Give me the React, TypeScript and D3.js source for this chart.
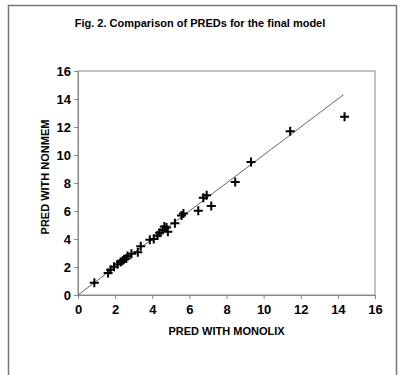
import { useEffect, useRef } from "react"
import * as d3 from "d3"

const monolix = [0.88, 1.62, 1.76, 1.94, 2.13, 2.3, 2.4, 2.48, 2.6, 2.67, 2.88, 3.22, 3.38, 3.87, 4.08, 4.28, 4.4, 4.55, 4.65, 4.77, 4.84, 5.22, 5.58, 5.68, 6.48, 6.75, 6.93, 7.18, 8.47, 9.32, 11.43, 14.36]
const nonmem = [0.88, 1.58, 1.8, 2.02, 2.2, 2.35, 2.45, 2.55, 2.6, 2.79, 2.95, 3.05, 3.48, 3.95, 4.0, 4.25, 4.45, 4.65, 4.9, 4.83, 4.52, 5.12, 5.67, 5.83, 6.02, 6.95, 7.12, 6.36, 8.07, 9.5, 11.69, 12.74]
const ticks = [0, 2, 4, 6, 8, 10, 12, 14, 16]
const lineEnd = 14.3

export default function App() {
  const svgRef = useRef<SVGSVGElement>(null)

  useEffect(() => {
    if (!svgRef.current) return
    const svg = d3.select(svgRef.current)
    svg.selectAll("*").remove()

    const width = 404
    const height = 375
    const margin = { top: 71, right: 29, bottom: 80, left: 78 }
    const innerWidth = width - margin.left - margin.right
    const innerHeight = height - margin.top - margin.bottom
    const font = "'Liberation Sans', Arial, sans-serif"

    // outer frame
    svg.append("rect")
      .attr("x", 8.5).attr("y", 5.5)
      .attr("width", 388).attr("height", 380)
      .attr("fill", "#fff")
      .attr("stroke", "#777").attr("stroke-width", 1.5)

    svg.append("text")
      .attr("x", 200).attr("y", 27)
      .attr("text-anchor", "middle")
      .attr("font-family", font).attr("font-weight", "bold").attr("font-size", "11px")
      .text("Fig. 2. Comparison of PREDs for the final model")

    const x = d3.scaleLinear().domain([0, 16]).range([0, innerWidth])
    const y = d3.scaleLinear().domain([0, 16]).range([innerHeight, 0])

    const g = svg.append("g").attr("transform", `translate(${margin.left}, ${margin.top})`)

    // plot box
    g.append("rect")
      .attr("x", 0).attr("y", 0)
      .attr("width", innerWidth).attr("height", innerHeight)
      .attr("fill", "none").attr("stroke", "#888").attr("stroke-width", 1)

    const xAxis = g.append("g")
      .attr("transform", `translate(0, ${innerHeight})`)
      .call(d3.axisBottom(x).tickValues(ticks).tickSize(4).tickPadding(6))
    const yAxis = g.append("g")
      .call(d3.axisLeft(y).tickValues(ticks).tickSize(4).tickPadding(3))

    for (const ax of [xAxis, yAxis]) {
      ax.select(".domain").attr("stroke", "#888")
      ax.selectAll(".tick line").attr("stroke", "#888")
      ax.selectAll("text")
        .attr("fill", "#000")
        .attr("font-family", font)
        .attr("font-weight", "bold")
        .attr("font-size", "13px")
    }

    // identity line
    g.append("line")
      .attr("x1", x(0)).attr("y1", y(0))
      .attr("x2", x(lineEnd)).attr("y2", y(lineEnd))
      .attr("stroke", "#666").attr("stroke-width", 1)

    const pts = monolix.map((m, i) => ({ m, n: nonmem[i] }))
    const s = 4.5
    g.selectAll(".pt")
      .data(pts)
      .enter()
      .append("path")
      .attr("class", "pt")
      .attr("d", (d) => {
        const cx = x(d.m)
        const cy = y(d.n)
        return `M${cx - s},${cy}H${cx + s}M${cx},${cy - s}V${cy + s}`
      })
      .attr("stroke", "#000").attr("stroke-width", 2)

    svg.append("text")
      .attr("x", margin.left + innerWidth / 2).attr("y", 335)
      .attr("text-anchor", "middle")
      .attr("font-family", font).attr("font-weight", "bold").attr("font-size", "11px")
      .text("PRED WITH MONOLIX")

    svg.append("text")
      .attr("transform", `translate(49, 177) rotate(-90)`)
      .attr("text-anchor", "middle")
      .attr("font-family", font).attr("font-weight", "bold").attr("font-size", "11px")
      .text("PRED WITH NONMEM")
  }, [])

  return (
    <svg
      ref={svgRef}
      width={404}
      height={375}
      style={{ position: "absolute", left: 0, top: 0 }}
    />
  )
}
